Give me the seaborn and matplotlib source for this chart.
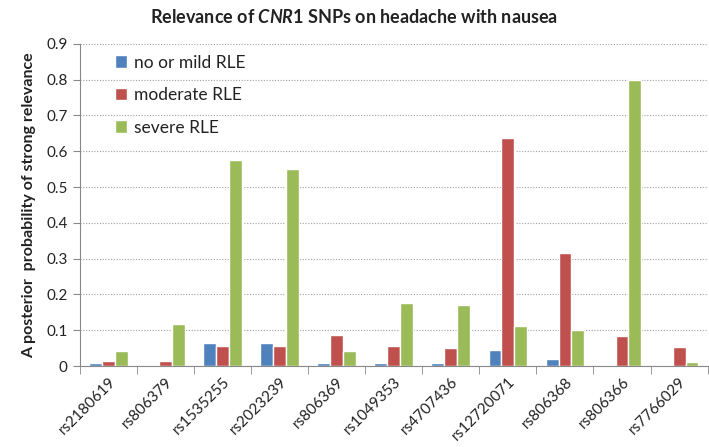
import matplotlib
matplotlib.use("Agg")
import matplotlib.pyplot as plt
import seaborn as sns
import pandas as pd
import numpy as np
from matplotlib.ticker import FixedLocator, FuncFormatter

snps = ["rs2180619", "rs806379", "rs1535255", "rs2023239", "rs806369", "rs1049353",
        "rs4707436", "rs12720071", "rs806368", "rs806366", "rs7766029"]
series = ["no or mild RLE", "moderate RLE", "severe RLE"]
no_or_mild = [0.010, 0.0, 0.065, 0.065, 0.010, 0.008, 0.010, 0.045, 0.020, 0.002, 0.002]
moderate = [0.015, 0.015, 0.055, 0.055, 0.088, 0.055, 0.050, 0.637, 0.317, 0.085, 0.053]
severe = [0.043, 0.117, 0.575, 0.550, 0.043, 0.175, 0.172, 0.112, 0.100, 0.800, 0.012]
colors = ["#4F81BD", "#C0504D", "#9BBB59"]
yticks = [0, 0.1, 0.2, 0.3, 0.4, 0.5, 0.6, 0.7, 0.8, 0.9]

df = pd.DataFrame({
    "snp": snps * 3,
    "group": [series[0]] * len(snps) + [series[1]] * len(snps) + [series[2]] * len(snps),
    "value": no_or_mild + moderate + severe,
})

sns.set_style("white")
plt.rcParams["font.family"] = ["Lato", "DejaVu Sans"]
plt.rcParams["mathtext.fontset"] = "custom"
plt.rcParams["mathtext.it"] = "Lato:bold:italic"
plt.rcParams["mathtext.rm"] = "Lato:bold"

fig = plt.figure(figsize=(7.09, 4.47), dpi=100)
ax = fig.add_axes([0.113, 0.181, 0.885, 0.721])

sns.barplot(data=df, x="snp", y="value", hue="group", palette=colors,
            width=0.68, gap=0, ax=ax, saturation=1, legend=True)

ax.set_ylim(0, 0.9)
ax.set_xlim(-0.5, len(snps) - 0.5)
ax.yaxis.set_major_locator(FixedLocator(yticks))
ax.yaxis.set_major_formatter(FuncFormatter(lambda v, p: "0" if abs(v) < 1e-9 else f"{v:.1f}"))
ax.grid(axis="y", color="#A0A0A0", linestyle=(0, (1, 1.5)), linewidth=0.8)
ax.set_axisbelow(True)

for s in ["top", "right"]:
    ax.spines[s].set_visible(False)
ax.spines["left"].set_color("#888888")
ax.spines["bottom"].set_color("#888888")

ax.tick_params(axis="y", which="major", left=True, length=5, color="#888888",
               labelsize=11, labelcolor="#222222", pad=4)
ax.set_xticks(np.arange(len(snps)))
ax.set_xticklabels(snps, rotation=45, ha="right", rotation_mode="anchor",
                   fontsize=11, color="#222222")
ax.tick_params(axis="x", which="major", length=0, pad=6)
ax.set_xticks(np.arange(-0.5, len(snps), 1.0), minor=True)
ax.tick_params(axis="x", which="minor", bottom=True, length=6, color="#888888")

ax.set_xlabel("")
ax.set_ylabel("A posterior  probability of strong relevance", fontsize=11.5,
              fontweight="bold", color="#222222", labelpad=7)

fig.text(0.50, 0.962, r"Relevance of $\mathit{CNR1}$ SNPs on headache with nausea",
         ha="center", va="center", fontsize=13, fontweight="bold", color="#222222")

leg = ax.legend(loc="upper left", bbox_to_anchor=(0.03, 1.015), frameon=False,
                fontsize=12.5, handlelength=0.7, handleheight=0.7, handletextpad=0.4,
                labelspacing=0.95, labelcolor="#222222")

fig.savefig("out.png", dpi=100)
